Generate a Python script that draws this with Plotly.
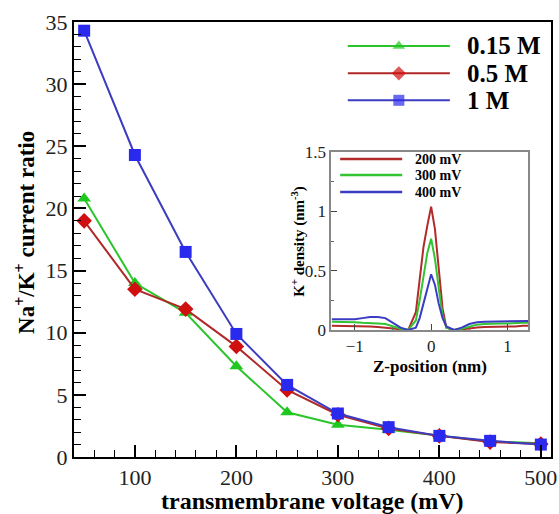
import plotly.graph_objects as go

# ---------------- data ----------------
voltage = [50, 100, 150, 200, 250, 300, 350, 400, 450, 500]
ratio_015 = [20.8, 14.0, 11.6, 7.3, 3.6, 2.6, 2.2, 1.7, 1.25, 1.1]
ratio_05 = [19.0, 13.5, 11.9, 8.9, 5.4, 3.4, 2.3, 1.7, 1.2, 1.05]
ratio_1 = [34.3, 24.3, 16.5, 9.9, 5.8, 3.5, 2.4, 1.7, 1.3, 1.0]
series_names = ["0.15 M", "0.5 M", "1 M"]

z_pos = [-1.3, -1.2, -1.1, -1.0, -0.9, -0.8, -0.7, -0.6, -0.5, -0.4, -0.3,
         -0.2, -0.15, -0.1, -0.05, 0.0, 0.05, 0.1, 0.15, 0.2, 0.3, 0.4,
         0.5, 0.6, 0.7, 0.8, 0.9, 1.0, 1.1, 1.2, 1.3]
dens_200 = [0.035, 0.035, 0.035, 0.03, 0.03, 0.03, 0.025, 0.02, 0.015, 0.005, 0.0,
            0.15, 0.4, 0.7, 0.88, 1.04, 0.85, 0.5, 0.18, 0.02, 0.0, 0.005,
            0.015, 0.02, 0.025, 0.025, 0.03, 0.03, 0.03, 0.035, 0.035]
dens_300 = [0.07, 0.07, 0.065, 0.065, 0.06, 0.06, 0.055, 0.05, 0.03, 0.01, 0.0,
            0.08, 0.25, 0.45, 0.65, 0.77, 0.6, 0.35, 0.12, 0.02, 0.0, 0.01,
            0.03, 0.045, 0.05, 0.055, 0.055, 0.055, 0.06, 0.06, 0.06]
dens_400 = [0.09, 0.09, 0.09, 0.09, 0.1, 0.11, 0.11, 0.1, 0.06, 0.02, 0.0,
            0.02, 0.1, 0.22, 0.36, 0.47, 0.38, 0.22, 0.1, 0.03, 0.0, 0.02,
            0.05, 0.065, 0.07, 0.07, 0.07, 0.075, 0.075, 0.075, 0.075]
inset_names = ["200 mV", "300 mV", "400 mV"]

# ---------------- styles ----------------
SERIF = "Liberation Serif"
main_line_colors = ["#2bc52b", "#b02828", "#3c3cc0"]
main_marker_colors = ["#1fc81f", "#d01010", "#2a2aee"]
main_symbols = ["triangle-up", "diamond", "square"]
inset_colors = ["#b22a2a", "#33c433", "#3b3bc4"]

X_RANGE = [40, 510]
Y_RANGE = [0, 35]
X2_RANGE = [-1.31, 1.27]
Y2_RANGE = [0, 1.5]
X2_DOM = [0.539, 0.952]
Y2_DOM = [0.292, 0.701]


def px(f):
    return X_RANGE[0] + f * (X_RANGE[1] - X_RANGE[0])


def py(f):
    return Y_RANGE[0] + f * (Y_RANGE[1] - Y_RANGE[0])


def px2(f):
    g = (f - X2_DOM[0]) / (X2_DOM[1] - X2_DOM[0])
    return X2_RANGE[0] + g * (X2_RANGE[1] - X2_RANGE[0])


def py2(f):
    g = (f - Y2_DOM[0]) / (Y2_DOM[1] - Y2_DOM[0])
    return Y2_RANGE[0] + g * (Y2_RANGE[1] - Y2_RANGE[0])


fig = go.Figure()

for vals, name, lc, mc, sym in zip([ratio_015, ratio_05, ratio_1], series_names,
                                   main_line_colors, main_marker_colors, main_symbols):
    fig.add_trace(go.Scatter(
        x=voltage, y=vals, mode="lines+markers", name=name, showlegend=False,
        line=dict(color=lc, width=2),
        marker=dict(symbol=sym, size=12, color=mc, line=dict(width=0)),
        xaxis="x", yaxis="y"))

for vals, name, c in zip([dens_200, dens_300, dens_400], inset_names, inset_colors):
    fig.add_trace(go.Scatter(
        x=z_pos, y=vals, mode="lines", name=name, showlegend=False,
        line=dict(color=c, width=2), xaxis="x2", yaxis="y2"))

# ---- custom legends ----
leg_x0, leg_x1 = 0.574, 0.788
leg_rows = [0.945, 0.882, 0.820]
annotations = []
for yy, name, lc, mc, sym in zip(leg_rows, series_names, main_line_colors,
                                 main_marker_colors, main_symbols):
    fig.add_trace(go.Scatter(
        x=[px(leg_x0), px((leg_x0 + leg_x1) / 2), px(leg_x1)], y=[py(yy)] * 3,
        mode="lines+markers", showlegend=False, hoverinfo="skip",
        line=dict(color=lc, width=2),
        marker=dict(symbol=sym, size=[0, 11, 0], color=mc, line=dict(width=0)),
        xaxis="x", yaxis="y"))
    annotations.append(dict(x=leg_x1 + 0.032, y=yy, xref="paper", yref="paper",
                            text="<b>%s</b>" % name, showarrow=False,
                            xanchor="left", yanchor="middle",
                            font=dict(family=SERIF, size=25, color="black")))

in_x0, in_x1 = 0.558, 0.688
in_rows = [0.685, 0.648, 0.609]
for yy, name, c in zip(in_rows, inset_names, inset_colors):
    fig.add_trace(go.Scatter(
        x=[px2(in_x0), px2(in_x1)], y=[py2(yy)] * 2, mode="lines", showlegend=False,
        hoverinfo="skip", line=dict(color=c, width=2.5),
        xaxis="x2", yaxis="y2"))
    annotations.append(dict(x=in_x1 + 0.022, y=yy, xref="paper", yref="paper",
                            text="<b>%s</b>" % name, showarrow=False,
                            xanchor="left", yanchor="middle",
                            font=dict(family=SERIF, size=14, color="black")))

# axis titles as annotations for exact placement
annotations.append(dict(x=0.5, y=-0.101, xref="paper", yref="paper",
                        text="<b>transmembrane voltage (mV)</b>", showarrow=False,
                        xanchor="center", yanchor="middle",
                        font=dict(family=SERIF, size=24, color="black")))
annotations.append(dict(x=-0.103, y=0.517, xref="paper", yref="paper",
                        text="<b>Na<sup>+</sup>/K<sup>+</sup> current ratio</b>",
                        showarrow=False, textangle=-90,
                        xanchor="center", yanchor="middle",
                        font=dict(family=SERIF, size=23, color="black")))
annotations.append(dict(x=(X2_DOM[0] + X2_DOM[1]) / 2, y=Y2_DOM[0] - 0.085,
                        xref="paper", yref="paper",
                        text="<b>Z-position (nm)</b>", showarrow=False,
                        xanchor="center", yanchor="middle",
                        font=dict(family=SERIF, size=17, color="black")))
annotations.append(dict(x=X2_DOM[0] - 0.07, y=(Y2_DOM[0] + Y2_DOM[1]) / 2,
                        xref="paper", yref="paper",
                        text="<b>K<sup>+</sup> density (nm<sup>-3</sup>)</b>",
                        showarrow=False, textangle=-90,
                        xanchor="center", yanchor="middle",
                        font=dict(family=SERIF, size=15, color="black")))

axis_main = dict(showline=True, linecolor="black", linewidth=2, mirror=True,
                 ticks="inside", ticklen=12, tickwidth=2, tickcolor="black",
                 showgrid=False, zeroline=False, automargin=False,
                 tickfont=dict(family=SERIF, size=22, color="#222"))

fig.update_layout(
    width=559, height=514,
    margin=dict(l=74, r=8, t=22, b=57),
    paper_bgcolor="white", plot_bgcolor="white",
    font=dict(family=SERIF),
    xaxis=dict(axis_main, range=X_RANGE, tickmode="linear", tick0=0, dtick=100,
               minor=dict(ticks="inside", ticklen=7, tickwidth=1, tickcolor="black",
                          dtick=20, tick0=0),
               domain=[0, 1]),
    yaxis=dict(axis_main, range=Y_RANGE, tickmode="linear", tick0=0, dtick=5,
               minor=dict(ticks="inside", ticklen=7, tickwidth=1, tickcolor="black",
                          dtick=1, tick0=0),
               domain=[0, 1]),
    xaxis2=dict(domain=X2_DOM, anchor="y2", range=X2_RANGE, automargin=False,
                showline=True, linecolor="#888", linewidth=1.5, mirror=True,
                ticks="inside", ticklen=6, tickcolor="#444", tickmode="linear",
                tick0=0, dtick=1, showgrid=False, zeroline=False,
                minor=dict(ticks="inside", ticklen=3, tickcolor="#666", dtick=0.5),
                tickfont=dict(family=SERIF, size=17, color="#222")),
    yaxis2=dict(domain=Y2_DOM, anchor="x2", range=Y2_RANGE, automargin=False,
                showline=True, linecolor="#888", linewidth=1.5, mirror=True,
                ticks="inside", ticklen=6, tickcolor="#444", tickmode="array",
                tickvals=[0, 0.5, 1, 1.5], ticktext=["0", "0.5", "1", "1.5"],
                showgrid=False, zeroline=False,
                minor=dict(ticks="inside", ticklen=3, tickcolor="#666",
                           tickvals=[0.25, 0.75, 1.25]),
                tickfont=dict(family=SERIF, size=17, color="#222")),
    annotations=annotations,
    showlegend=False,
)

fig.write_html("out.html", config={"displayModeBar": False},
               post_script="document.body.style.margin='0';"
                           "document.body.style.overflow='hidden';")
